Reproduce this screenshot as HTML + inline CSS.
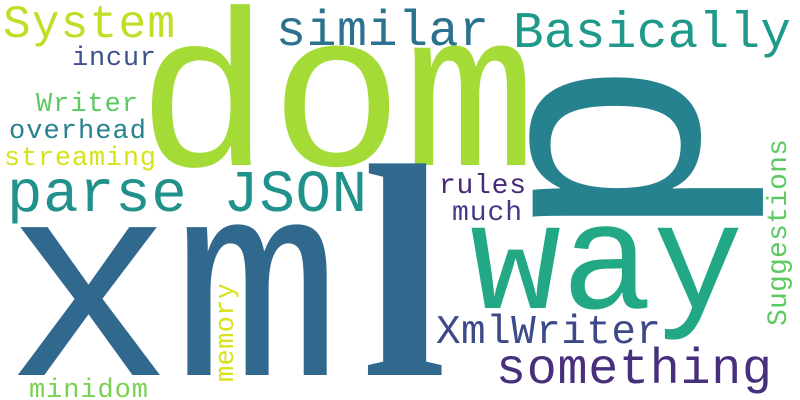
<!DOCTYPE html>
<html><head><meta charset="utf-8"><style>
html,body{margin:0;padding:0;background:#fff;overflow:hidden;width:800px;height:400px}
svg{display:block;overflow:hidden}
text{font-family:"Liberation Mono","DejaVu Sans Mono",monospace}
</style></head><body>
<svg width="800" height="400" viewBox="0 0 800 400">
<rect width="800" height="400" fill="#fff"/>
<text x="137" y="165" font-size="222" fill="#a5db36">dom</text>
<text x="5" y="375" font-size="280" fill="#31688e">xm<tspan x="362" font-family="Liberation Serif" font-weight="bold" font-size="305">l</tspan></text>
<text transform="translate(698,244) rotate(-90)" font-size="313" fill="#26828e">p</text>
<text x="470" y="308" font-size="152" fill="#22a884">way</text>
<text x="3" y="37" font-size="46" fill="#bddf26" textLength="172">System</text>
<text x="276" y="45" font-size="50" fill="#2c728e" textLength="213">similar</text>
<text x="513" y="47" font-size="51" fill="#1f9a8a" textLength="278">Basically</text>
<text x="72" y="65" font-size="27" fill="#3b528b" textLength="84">incur</text>
<text x="36" y="111" font-size="27" fill="#5ec962" textLength="102">Writer</text>
<text x="9" y="138" font-size="27" fill="#26828e" textLength="137">overhead</text>
<text x="4" y="165" font-size="27" fill="#d8e219" textLength="152">streaming</text>
<text x="7" y="211" font-size="59" fill="#21918c" textLength="360">parse JSON</text>
<text x="439" y="193" font-size="28" fill="#482878" textLength="87">rules</text>
<text x="452" y="220" font-size="28" fill="#443983" textLength="70">much</text>
<text transform="translate(786,326) rotate(-90)" font-size="28" fill="#5ec962" textLength="187">Suggestions</text>
<text x="436" y="343" font-size="41" fill="#3e4989" textLength="225">XmlWriter</text>
<text x="496" y="383" font-size="50" fill="#472f7d" textLength="276">something</text>
<text transform="translate(233,382) rotate(-90)" font-size="27" fill="#d8e219" textLength="99">memory</text>
<text x="29" y="397" font-size="27" fill="#7ad151" textLength="119">minidom</text>
</svg>
</body></html>
